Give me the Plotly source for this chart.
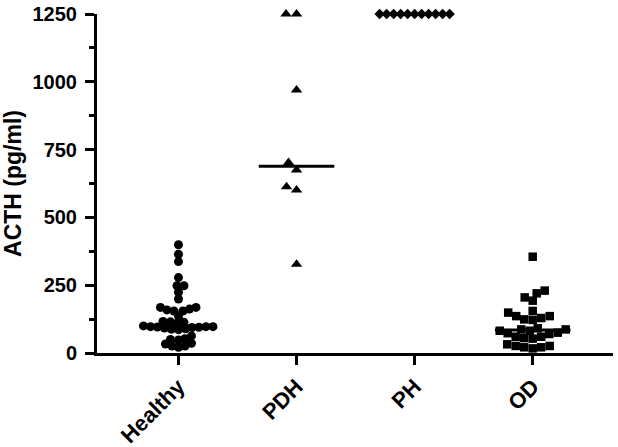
import numpy as np
import plotly.graph_objects as go

groups = ['Healthy', 'PDH', 'PH', 'OD']

healthy = [399, 364, 337, 278, 248, 248, 224, 199, 168, 168, 162, 159, 155, 155, 136,
           110, 113, 115, 116,
           92, 94, 95, 96, 97, 97, 97, 100,
           86, 88, 89, 63,
           21, 26, 26, 33, 36, 48, 50, 53]
pdh = [1250, 1250, 970, 702, 675, 613, 601, 327]
ph = [1250] * 11
od = [355, 230, 220, 205, 193, 155, 149, 136, 136, 129, 124, 122,
      91, 87, 87, 82, 82, 75, 73, 70, 60, 60, 55, 53,
      32, 26, 26, 21, 21, 17]

series = [healthy, pdh, ph, od]
symbols = ['circle', 'triangle-up', 'diamond', 'square']
marker_sizes = [9, 10, 8, 8.5]
spacing = [6.6, 10.5, 6.8, 8.3]   # px between neighbours in the swarm

y_ticks = [0, 250, 500, 750, 1000, 1250]

W, H = 618, 447
M = dict(l=97, r=5, t=14, b=94)
x_range = [-0.69, 3.68]
y_range = [0, 1250]
px_x = (W - M['l'] - M['r']) / (x_range[1] - x_range[0])
px_y = (H - M['t'] - M['b']) / (y_range[1] - y_range[0])


def swarm(values, diam, step=0.5):
    placed = []
    vals, offs = [], []
    for v in sorted(values):
        yp = v * px_y
        k = 0
        found = None
        while found is None:
            cands = [0.0] if k == 0 else [-k * step, k * step]
            for c in cands:
                if all((c - a) ** 2 + (yp - b) ** 2 >= diam ** 2 for a, b in placed):
                    found = c
                    break
            k += 1
        placed.append((found, yp))
        vals.append(v)
        offs.append(found / px_x)
    return vals, offs


fig = go.Figure()

for i, (name, vals) in enumerate(zip(groups, series)):
    ys, offs = swarm(vals, spacing[i])
    fig.add_trace(go.Scatter(
        x=[i + o for o in offs],
        y=ys,
        mode='markers',
        marker=dict(symbol=symbols[i], size=marker_sizes[i], color='black',
                    line=dict(width=0)),
        cliponaxis=False,
        showlegend=False,
        name=name,
    ))

for i, vals in enumerate(series):
    med = float(np.median(vals))
    fig.add_trace(go.Scatter(
        x=[i - 0.32, i + 0.32],
        y=[med, med],
        mode='lines',
        line=dict(color='black', width=3),
        cliponaxis=False,
        showlegend=False,
    ))

tick_font = dict(family='Liberation Sans', size=20, color='black', weight='bold')

fig.update_xaxes(
    range=x_range,
    tickvals=list(range(len(groups))),
    ticktext=groups,
    tickangle=-45,
    tickfont=dict(family='Liberation Sans', size=22, color='black', weight='bold'),
    showline=True, linecolor='black', linewidth=3,
    ticks='outside', ticklen=9, tickwidth=3, tickcolor='black',
    showgrid=False, zeroline=False, automargin=False,
)
fig.update_yaxes(
    range=y_range,
    tickvals=y_ticks,
    tickfont=tick_font,
    ticklabelstandoff=4,
    title=dict(text='ACTH (pg/ml)', font=dict(family='Liberation Sans', size=23,
                                              color='black', weight='bold')),
    showline=True, linecolor='black', linewidth=3,
    ticks='outside', ticklen=9, tickwidth=3, tickcolor='black',
    minor=dict(dtick=125, ticks='outside', ticklen=5, tickwidth=3, tickcolor='black'),
    showgrid=False, zeroline=False, automargin=False,
)
fig.update_layout(
    width=W,
    height=H,
    margin=M,
    plot_bgcolor='white',
    paper_bgcolor='white',
)

# page body has a default 8px margin; drop it so the figure fills the window
fig.write_html("out.html", config={'displayModeBar': False},
               post_script="document.body.style.margin='0px';")
